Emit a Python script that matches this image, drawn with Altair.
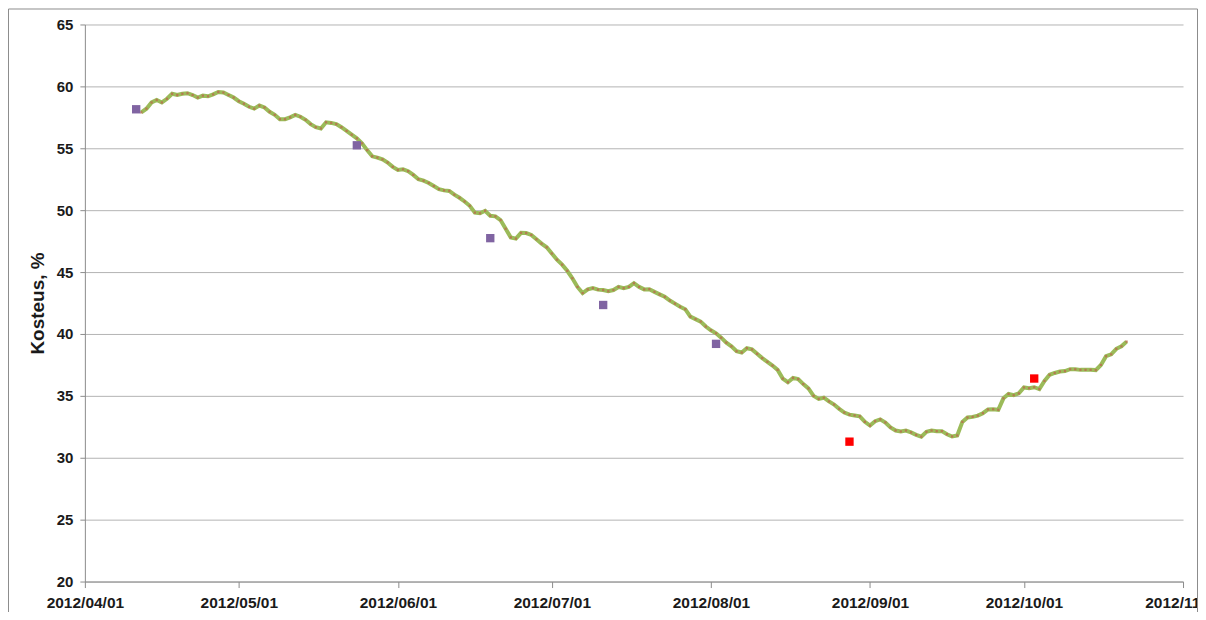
import altair as alt
import pandas as pd

# Daily moisture readings (line), starting 2012-04-12
moisture = [
    57.9, 58.2, 58.7, 58.9, 58.7, 59.0, 59.4, 59.3, 59.4, 59.45,
    59.3, 59.1, 59.25, 59.2, 59.35, 59.55, 59.5, 59.3, 59.1, 58.8,
    58.6, 58.35, 58.2, 58.45, 58.3, 57.95, 57.7, 57.35, 57.35, 57.5,
    57.7, 57.55, 57.3, 56.95, 56.7, 56.6, 57.1, 57.05, 56.95, 56.7,
    56.4, 56.1, 55.8, 55.4, 54.85, 54.35, 54.25, 54.1, 53.85, 53.5,
    53.25, 53.3, 53.15, 52.85, 52.5, 52.38, 52.2, 51.95, 51.7, 51.6,
    51.55, 51.25, 51.0, 50.7, 50.35, 49.8, 49.75, 49.95, 49.55, 49.5,
    49.2, 48.5, 47.8, 47.7, 48.17, 48.15, 48.0, 47.65, 47.3, 47.0,
    46.5, 46.0, 45.6, 45.1, 44.5, 43.8, 43.3, 43.6, 43.7, 43.58,
    43.55, 43.45, 43.55, 43.8, 43.7, 43.8, 44.1, 43.8, 43.6, 43.62,
    43.4, 43.2, 43.0, 42.7, 42.45, 42.2, 42.0, 41.4, 41.2, 41.0,
    40.6, 40.3, 40.05, 39.7, 39.3, 39.0, 38.6, 38.5, 38.85, 38.75,
    38.4, 38.05, 37.75, 37.45, 37.1, 36.4, 36.1, 36.45, 36.35, 35.95,
    35.6, 35.0, 34.75, 34.85, 34.55, 34.3, 33.95, 33.65, 33.48, 33.42,
    33.35, 32.9, 32.6, 32.95, 33.1, 32.85, 32.45, 32.2, 32.12, 32.2,
    32.05, 31.85, 31.7, 32.1, 32.2, 32.15, 32.15, 31.9, 31.72, 31.8,
    32.9, 33.25, 33.3, 33.4, 33.6, 33.9, 33.92, 33.87, 34.8, 35.16,
    35.05, 35.2, 35.68, 35.62, 35.7, 35.55, 36.2, 36.7, 36.85, 36.96,
    37.0, 37.15, 37.15, 37.1, 37.1, 37.1, 37.08, 37.5, 38.2, 38.35,
    38.8, 39.0, 39.38,
]
line_start = "2012-04-12"

# Manual sample measurements (squares)
sample_dates = ["2012-04-11", "2012-05-24", "2012-06-19", "2012-07-11",
                "2012-08-02", "2012-08-28", "2012-10-03"]
sample_values = [58.15, 55.24, 47.74, 42.34, 39.2, 31.3, 36.4]
sample_group = ["A", "A", "A", "A", "A", "B", "B"]

month_ticks = [(2012, m) for m in range(4, 12)]

line_dates = pd.date_range(line_start, periods=len(moisture), freq="D").strftime("%Y-%m-%dT00:00:00")
line_df = pd.DataFrame({"date": list(line_dates), "value": moisture})
sample_df = pd.DataFrame({
    "date": [d + "T00:00:00" for d in sample_dates],
    "value": sample_values,
    "group": sample_group,
})

FONT = "Liberation Sans"
TXT = "#1a1a1a"
GRID = "#b4b4b4"
AXIS = "#8c8c8c"

x_enc = alt.X(
    "date:T",
    scale=alt.Scale(
        domain=[alt.DateTime(year=2012, month=4, date=1), alt.DateTime(year=2012, month=11, date=1)],
        nice=False,
    ),
    axis=alt.Axis(
        values=[alt.DateTime(year=y, month=m, date=1) for (y, m) in month_ticks],
        format="%Y/%m/%d",
        title=None,
        grid=False,
        domainColor=AXIS,
        tickColor=AXIS,
        tickSize=6,
        labelPadding=8,
        labelFont=FONT,
        labelFontSize=15.5,
        labelFontWeight="bold",
        labelColor=TXT,
        labelOverlap=False,
        labelFlush=False,
    ),
)
y_enc = alt.Y(
    "value:Q",
    scale=alt.Scale(domain=[20, 65], nice=False, zero=False),
    axis=alt.Axis(
        values=[20, 25, 30, 35, 40, 45, 50, 55, 60, 65],
        title="Kosteus, %",
        grid=True,
        gridColor=GRID,
        gridWidth=1,
        domainColor=AXIS,
        tickColor=AXIS,
        tickSize=5,
        labelPadding=7,
        labelFont=FONT,
        labelFontSize=15,
        labelFontWeight="bold",
        labelColor=TXT,
        titleFont=FONT,
        titleFontSize=19,
        titleFontWeight="bold",
        titleColor=TXT,
        titleAngle=270,
        titleX=-47,
        titleY=279,
        titleAlign="center",
        titleBaseline="middle",
    ),
)

line = alt.Chart(line_df).mark_line(color="#9bbb59", strokeWidth=4).encode(x=x_enc, y=y_enc)
dots = alt.Chart(line_df).mark_point(
    shape="square", filled=True, size=5, color="#b8704f", opacity=0.85
).encode(x="date:T", y="value:Q")
squares = alt.Chart(sample_df).mark_point(shape="square", filled=True, size=70, opacity=1).encode(
    x="date:T",
    y="value:Q",
    color=alt.Color("group:N", scale=alt.Scale(domain=["A", "B"], range=["#8064a2", "#ff0000"]), legend=None),
)

border = alt.Chart(pd.DataFrame({"k": [0]})).mark_rect(
    fill=None, stroke="#8c8c8c", strokeWidth=1
).encode(
    x=alt.value(-76.5), x2=alt.value(1114.5), y=alt.value(-15.5), y2=alt.value(620)
)

chart = alt.layer(line, dots, squares, border).properties(
    width=1100,
    height=558,
    autosize=alt.AutoSizeParams(type="none"),
    padding={"left": 77, "top": 16, "right": 15, "bottom": 30},
    background="white",
).configure_view(stroke=None)

chart.save("out.html", embed_options={"renderer": "svg", "actions": False})
